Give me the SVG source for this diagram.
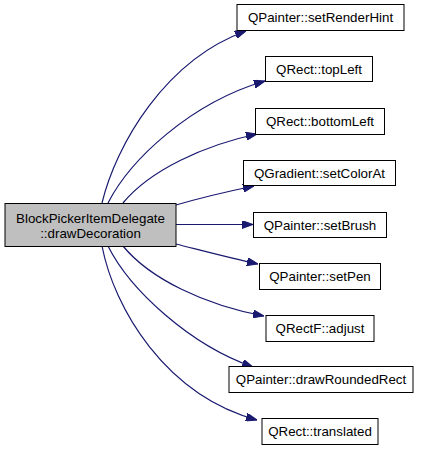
<svg xmlns="http://www.w3.org/2000/svg" width="421" height="453" viewBox="0 0 421 453">
<style>
.n{fill:#fff;stroke:#000;stroke-width:1}
.m{fill:#bfbfbf;stroke:#000;stroke-width:1}
text{font-family:"Liberation Sans",Arial,sans-serif;font-size:13.33px;text-anchor:middle;fill:#000}
.e{fill:none;stroke:#191970;stroke-width:1.2}
</style>
<defs>
<marker id="a" viewBox="0 0 11 8" refX="11" refY="4" markerWidth="11" markerHeight="8" markerUnits="userSpaceOnUse" orient="auto">
<path d="M0,0L11,4L0,8z" fill="#191970" stroke="#191970"/>
</marker>
</defs>
<rect width="421" height="453" fill="#fff"/>
<g id="edges">
<path class="e" marker-end="url(#a)" d="M102,203C116,145 165,60 246,31"/>
<path class="e" marker-end="url(#a)" d="M108,203C130,160 190,103 265,81"/>
<path class="e" marker-end="url(#a)" d="M123,203C150,170 205,145 257,134"/>
<path class="e" marker-end="url(#a)" d="M176,205C200,198 225,192 254,186"/>
<path class="e" marker-end="url(#a)" d="M176,224.5L253,224.5"/>
<path class="e" marker-end="url(#a)" d="M176,244C200,250 230,258 258,264"/>
<path class="e" marker-end="url(#a)" d="M123,246C150,279 205,305 264,316"/>
<path class="e" marker-end="url(#a)" d="M108,246C130,290 190,345 253,367"/>
<path class="e" marker-end="url(#a)" d="M102,246C114,308 165,395 257,420"/>
</g>
<g id="main"><rect class="m" x="5" y="203.5" width="171" height="43"/><text x="90.5" y="223">BlockPickerItemDelegate</text><text x="90.5" y="238">::drawDecoration</text></g>
<g id="n1"><rect class="n" x="237" y="4.5" width="167" height="26"/><text x="320.5" y="22">QPainter::setRenderHint</text></g>
<g id="n2"><rect class="n" x="265.5" y="56.5" width="107" height="25"/><text x="319" y="73.5">QRect::topLeft</text></g>
<g id="n3"><rect class="n" x="255.5" y="108.5" width="129" height="26"/><text x="320" y="126">QRect::bottomLeft</text></g>
<g id="n4"><rect class="n" x="243.5" y="160.5" width="152" height="25"/><text x="319.5" y="177.5">QGradient::setColorAt</text></g>
<g id="n5"><rect class="n" x="253.5" y="212.5" width="133" height="25"/><text x="320" y="229.5">QPainter::setBrush</text></g>
<g id="n6"><rect class="n" x="259.5" y="263.5" width="121" height="26"/><text x="320" y="281">QPainter::setPen</text></g>
<g id="n7"><rect class="n" x="266" y="315.5" width="108" height="26"/><text x="320" y="333">QRectF::adjust</text></g>
<g id="n8"><rect class="n" x="229" y="366.5" width="184" height="26"/><text x="321" y="384">QPainter::drawRoundedRect</text></g>
<g id="n9"><rect class="n" x="262" y="418.5" width="116" height="26"/><text x="320" y="436">QRect::translated</text></g>
</svg>
